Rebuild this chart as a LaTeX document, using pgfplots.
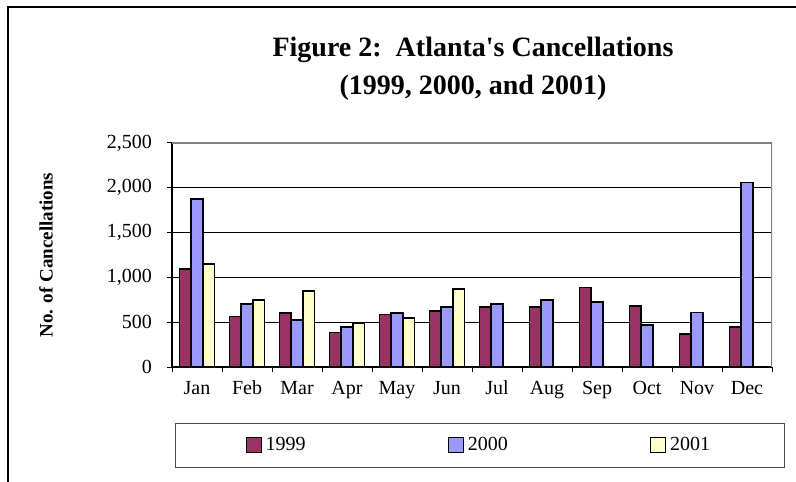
\documentclass[border=0pt]{standalone}
\usepackage{fontspec}
\setmainfont{Liberation Serif}
\usepackage{pgfplots}
\pgfplotsset{compat=1.18}
\definecolor{c99}{HTML}{993366}
\definecolor{c00}{HTML}{9999FF}
\definecolor{c01}{HTML}{FFFFCC}
\begin{document}
\begin{tikzpicture}
\useasboundingbox (0pt,0pt) rectangle (398pt,240.5pt);
\draw[line width=0.8pt] (4pt,-5pt) -- (4pt,237pt) -- (402pt,237pt);
\node[font=\bfseries\fontsize{14}{19}\selectfont, align=center] at (236.5pt,206pt) {Figure 2:~~Atlanta\textquotesingle s Cancellations\\(1999, 2000, and 2001)};
\begin{axis}[
  at={(86pt,57pt)}, anchor=south west,
  scale only axis, width=300pt, height=112pt,
  xmin=-0.5, xmax=11.5, ymin=0, ymax=2500,
  ytick={0,500,...,2500},
  xtick={-0.5,0.5,...,11.5},
  x tick label as interval,
  xticklabels={Jan,Feb,Mar,Apr,May,Jun,Jul,Aug,Sep,Oct,Nov,Dec},
  /pgf/number format/assume math mode=true,
  /pgf/number format/1000 sep={,},
  scaled y ticks=false,
  tick label style={font=\fontsize{10}{12}\selectfont},
  yticklabel style={xshift=-4pt},
  xticklabel style={yshift=-1pt},
  tick align=outside, major tick length=2.5pt,
  tick style={black, line width=0.5pt},
  ymajorgrids, grid style={black, line width=0.5pt},
  axis x line*=bottom, axis y line*=left,
  axis line style={black, line width=0.6pt},
  ylabel={No. of Cancellations},
  ylabel style={font=\bfseries\fontsize{9.5}{11}\selectfont, at={(axis description cs:-0.21,0.5)}, anchor=center},
  ybar=0pt, bar width=5.85pt,
  legend columns=3,
  legend style={at={(axis description cs:0.005,-0.25)}, anchor=north west,
    draw=black!70, line width=0.5pt, font=\fontsize{10}{12}\selectfont,
    inner xsep=35pt, inner ysep=5pt,
    /tikz/every even column/.append style={column sep=69pt}},
  legend image code/.code={\draw[#1, line width=0.5pt] (0pt,-3.6pt) rectangle (7.6pt,4pt);},
]
\addplot[fill=c99, draw=black, line width=0.9pt] coordinates {
 (0,1090) (1,563) (2,604) (3,384) (4,586) (5,627) (6,668) (7,668) (8,888) (9,683) (10,366) (11,444)};
\addplot[fill=c00, draw=black, line width=0.9pt] coordinates {
 (0,1877) (1,705) (2,522) (3,448) (4,604) (5,672) (6,705) (7,746) (8,728) (9,466) (10,608) (11,2060)};
\addplot[fill=c01, draw=black, line width=0.9pt] coordinates {
 (0,1149) (1,746) (2,847) (3,485) (4,545) (5,869)};
\legend{1999,2000,2001}
\draw[gray, line width=0.6pt] (rel axis cs:0,1) -- (rel axis cs:1,1) -- (rel axis cs:1,0);
\end{axis}
\end{tikzpicture}
\end{document}
